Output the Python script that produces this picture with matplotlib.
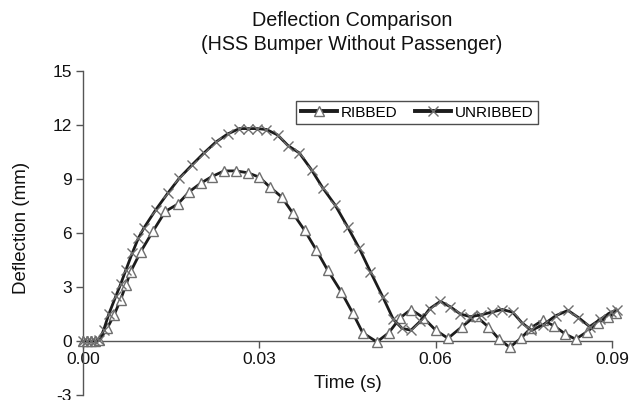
import matplotlib
matplotlib.use("Agg")
import matplotlib.pyplot as plt

plt.rcParams['font.family'] = ['Liberation Sans', 'DejaVu Sans']
plt.rcParams['axes.unicode_minus'] = False

# Time samples in milliseconds, deflection in mm
t_ribbed = [0.0, 0.7, 1.4, 2.1, 2.8, 4.1, 5.3, 6.4, 7.3, 8.1, 9.8, 11.9, 14.0,
            16.1, 18.1, 20.0, 21.9, 24.0, 26.0, 28.0, 30.0, 31.8, 33.8, 35.7,
            37.7, 39.7, 41.6, 43.9, 45.9, 47.6, 50.0, 52.0, 54.0, 55.8, 57.9,
            60.0, 62.1, 64.5, 66.8, 68.9, 70.8, 72.6, 74.5, 76.3, 78.2, 80.1,
            82.0, 83.8, 85.7, 87.6, 89.3, 90.7]
d_ribbed = [0.0, 0.0, 0.0, 0.0, 0.05, 0.7, 1.45, 2.3, 3.1, 3.85, 4.95, 6.1, 7.2,
            7.6, 8.3, 8.76, 9.13, 9.45, 9.45, 9.35, 9.1, 8.55, 8.0, 7.1,
            6.15, 5.05, 3.95, 2.75, 1.55, 0.45, -0.05, 0.45, 1.3, 1.75, 1.3,
            0.6, 0.15, 0.8, 1.4, 0.8, 0.1, -0.35, 0.15, 0.75, 1.15, 0.85,
            0.4, 0.1, 0.5, 1.0, 1.35, 1.55]

t_unribbed = [0.0, 0.7, 1.4, 2.1, 2.8, 3.5, 4.4, 5.6, 6.4, 7.3, 8.4, 9.4, 10.4,
              12.4, 14.4, 16.4, 18.6, 20.6, 22.6, 24.6, 26.6, 28.1, 29.6, 31.2,
              33.1, 34.9, 36.8, 38.9, 40.8, 42.9, 45.0, 47.0, 48.9, 51.0, 52.8,
              54.3, 55.8, 57.4, 59.0, 60.8, 62.5, 64.2, 65.9, 67.7, 69.5, 71.3,
              73.1, 74.7, 76.3, 78.3, 80.4, 82.5, 84.3, 86.2, 88.0, 89.8, 90.8]
d_unribbed = [0.0, 0.0, 0.0, 0.0, 0.05, 0.6, 1.5, 2.5, 3.15, 3.95, 4.9, 5.7, 6.3,
              7.3, 8.2, 9.05, 9.8, 10.45, 11.05, 11.5, 11.8, 11.8, 11.8, 11.75,
              11.45, 10.85, 10.45, 9.5, 8.5, 7.55, 6.35, 5.15, 3.85, 2.45, 1.2,
              0.7, 0.6, 1.1, 1.8, 2.2, 1.9, 1.5, 1.35, 1.45, 1.6, 1.75,
              1.6, 1.0, 0.6, 0.9, 1.4, 1.7, 1.3, 0.8, 1.2, 1.6, 1.7]

x_ticks = [0.0, 0.03, 0.06, 0.09]
x_tick_labels = ["0.00", "0.03", "0.06", "0.09"]
y_ticks = [-3, 0, 3, 6, 9, 12, 15]

fig = plt.figure(figsize=(6.33, 4.0), dpi=100)
ax = fig.add_axes([83 / 633, 5 / 400, (612 - 83) / 633, (395 - 71) / 400])

line_col = '#1c1c1c'
mark_col = '#6e6e6e'

ax.plot([t / 1000 for t in t_ribbed], d_ribbed, color=line_col, lw=2.0,
        marker='^', ms=7, mfc='white', mec=mark_col, mew=1.0,
        label='RIBBED', clip_on=False, zorder=3)
ax.plot([t / 1000 for t in t_unribbed], d_unribbed, color=line_col, lw=2.0,
        marker='x', ms=7.5, mec=mark_col, mew=1.0,
        label='UNRIBBED', clip_on=False, zorder=3)

ax.set_xlim(0, 0.09)
ax.set_ylim(-3, 15)
ax.set_xticks(x_ticks)
ax.set_xticklabels(x_tick_labels)
ax.set_yticks(y_ticks)

for s in ['top', 'right']:
    ax.spines[s].set_visible(False)
ax.spines['bottom'].set_position(('data', 0))
for s in ['left', 'bottom']:
    ax.spines[s].set_color('#555555')
    ax.spines[s].set_linewidth(1.0)

ax.tick_params(axis='both', direction='out', length=5, width=1.0,
               color='#555555', labelsize=12.5, labelcolor='#111111')
ax.tick_params(axis='y', pad=3)
ax.tick_params(axis='x', pad=3)

fig.text(22 / 633, 1 - 228 / 400, 'Deflection (mm)', rotation=90,
         ha='center', va='center', fontsize=13.5, color='#111111')
fig.text(348 / 633, 1 - 383 / 400, 'Time (s)', ha='center', va='center',
         fontsize=13.5, color='#111111')

fig.text(352 / 633, 1 - 20 / 400, 'Deflection Comparison', ha='center',
         va='center', fontsize=14.2, color='#111111')
fig.text(352 / 633, 1 - 45 / 400, '(HSS Bumper Without Passenger)',
         ha='center', va='center', fontsize=14.2, color='#111111')

leg = ax.legend(loc='upper left', bbox_to_anchor=(296 / 633, 1 - 101 / 400),
                bbox_transform=fig.transFigure, ncol=2, frameon=True,
                fancybox=False, edgecolor='#222222', fontsize=11,
                handlelength=2.4, handletextpad=0.25, columnspacing=1.1,
                borderpad=0.3, borderaxespad=0)
leg.get_frame().set_linewidth(1.0)
for h in leg.get_lines():
    h.set_linewidth(2.8)

fig.savefig('out.png', dpi=100)
